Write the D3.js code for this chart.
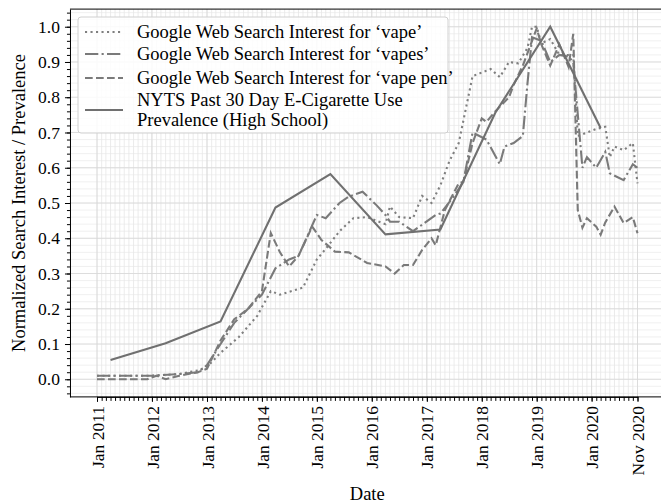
<!DOCTYPE html>
<html>
<head>
<meta charset="utf-8">
<script src="https://cdn.jsdelivr.net/npm/d3@7"></script>
<style>
  body { margin: 0; background: #fff; }
  svg { font-family: "Liberation Serif", serif; }
</style>
</head>
<body>
<svg id="svg" width="661" height="504"></svg>
<script>
// Google trends
var vapeDates = ["2011-01","2011-07","2012-01","2012-07","2012-11","2013-01","2013-04","2013-08","2013-12","2014-03","2014-05","2014-10","2015-01","2015-03","2015-06","2015-09","2015-12","2016-04","2016-05","2016-07","2016-10","2016-12","2017-02","2017-04","2017-06","2017-08","2017-11","2018-03","2018-05","2018-07","2018-09","2018-11","2018-12","2019-01","2019-02","2019-04","2019-06","2019-09","2019-10","2019-12","2020-02","2020-04","2020-05","2020-06","2020-08","2020-10","2020-11"];
var vapeVals  = [0.01,0.01,0.01,0.015,0.025,0.035,0.075,0.12,0.18,0.25,0.24,0.26,0.34,0.37,0.42,0.457,0.46,0.44,0.49,0.46,0.457,0.52,0.50,0.55,0.62,0.67,0.86,0.88,0.857,0.90,0.896,0.94,1.0,1.0,0.953,0.965,0.92,0.92,0.69,0.70,0.71,0.716,0.63,0.66,0.65,0.67,0.556];

var vapesDates = ["2011-01","2011-07","2012-01","2012-07","2012-11","2013-01","2013-04","2013-07","2013-10","2014-01","2014-04","2014-07","2014-09","2015-01","2015-03","2015-06","2015-08","2015-11","2016-02","2016-04","2016-05","2016-07","2016-10","2017-03","2017-04","2017-07","2017-09","2017-11","2018-02","2018-05","2018-06","2018-08","2018-10","2018-11","2018-12","2019-02","2019-04","2019-06","2019-08","2019-09","2019-11","2019-12","2020-02","2020-04","2020-05","2020-08","2020-10","2020-11"];
var vapesVals  = [0.01,0.01,0.01,0.015,0.02,0.04,0.10,0.16,0.20,0.24,0.315,0.34,0.35,0.466,0.457,0.50,0.518,0.532,0.494,0.466,0.447,0.447,0.42,0.466,0.47,0.52,0.56,0.70,0.68,0.61,0.66,0.67,0.69,0.84,0.97,0.96,0.90,0.92,0.915,0.90,0.60,0.63,0.60,0.645,0.584,0.565,0.61,0.60];

var penDates = ["2011-01","2011-07","2011-12","2012-02","2012-04","2012-07","2012-11","2013-01","2013-04","2013-07","2013-10","2014-01","2014-03","2014-05","2014-07","2014-09","2014-12","2015-02","2015-05","2015-08","2015-12","2016-04","2016-06","2016-08","2016-10","2016-12","2017-02","2017-03","2017-05","2017-08","2017-09","2017-11","2018-01","2018-02","2018-04","2018-07","2018-08","2018-10","2019-01","2019-02","2019-04","2019-06","2019-08","2019-09","2019-10","2019-11","2019-12","2020-02","2020-03","2020-04","2020-06","2020-08","2020-10","2020-11"];
var penVals  = [0.0,0.0,0.0,0.01,0.0,0.01,0.02,0.03,0.11,0.17,0.20,0.25,0.415,0.36,0.32,0.35,0.433,0.395,0.362,0.36,0.33,0.32,0.30,0.324,0.324,0.367,0.40,0.38,0.48,0.556,0.56,0.67,0.74,0.73,0.76,0.80,0.835,0.89,0.995,0.95,0.89,0.95,0.886,0.98,0.48,0.43,0.457,0.433,0.41,0.445,0.49,0.443,0.46,0.414];

// NYTS prevalence (normalized)
var nytsDates = ["2011-04","2012-04","2013-04","2014-04","2015-04","2016-04","2017-04","2018-04","2019-04","2020-03"];
var nytsVals  = [0.055,0.102,0.164,0.487,0.582,0.411,0.425,0.756,1.0,0.713];

var yTicks = [0,0.1,0.2,0.3,0.4,0.5,0.6,0.7,0.8,0.9,1.0];
var xTickDates = ["2011-01","2012-01","2013-01","2014-01","2015-01","2016-01","2017-01","2018-01","2019-01","2020-01","2020-11"];
var xTickLabels = ["Jan 2011","Jan 2012","Jan 2013","Jan 2014","Jan 2015","Jan 2016","Jan 2017","Jan 2018","Jan 2019","Jan 2020","Nov 2020"];

var legendNames = ["Google Web Search Interest for \u2018vape\u2019","Google Web Search Interest for \u2018vapes\u2019","Google Web Search Interest for \u2018vape pen\u2019","NYTS Past 30 Day E-Cigarette Use|Prevalence (High School)"];

var parse = d3.timeParse("%Y-%m");
var svg = d3.select("#svg");

var first = parse("2011-01"), last = parse("2020-11");
var xScale = d3.scaleTime().domain([first, last]).range([97, 637.5]);
var span = xScale(last) - xScale(first);
var plot = {left: xScale(first) - span*0.05, right: xScale(last) + span*0.05};
var yScale = d3.scaleLinear().domain([-0.05, 1.05]).range([396.9, 9.1]);
plot.top = yScale(1.05); plot.bottom = yScale(-0.05);

var grid = svg.append("g");
// minor horizontal grid
grid.selectAll(".hmin").data(d3.range(-0.04, 1.05, 0.02)).enter().append("line")
  .attr("x1", plot.left).attr("x2", plot.right)
  .attr("y1", d => yScale(d)).attr("y2", d => yScale(d))
  .attr("stroke", "#ececec").attr("stroke-width", 0.8);
// monthly vertical grid
var months = d3.timeMonth.range(first, d3.timeMonth.offset(last, 1));
grid.selectAll(".vmin").data(months).enter().append("line")
  .attr("x1", d => xScale(d)).attr("x2", d => xScale(d))
  .attr("y1", plot.top).attr("y2", plot.bottom)
  .attr("stroke", "#e6e6e6").attr("stroke-width", 0.8);
// major grid
grid.selectAll(".hmaj").data(yTicks).enter().append("line")
  .attr("x1", plot.left).attr("x2", plot.right)
  .attr("y1", d => yScale(d)).attr("y2", d => yScale(d))
  .attr("stroke", "#d8d8d8").attr("stroke-width", 0.8);
grid.selectAll(".vmaj").data(xTickDates).enter().append("line")
  .attr("x1", d => xScale(parse(d))).attr("x2", d => xScale(parse(d)))
  .attr("y1", plot.top).attr("y2", plot.bottom)
  .attr("stroke", "#d8d8d8").attr("stroke-width", 0.8);

// series
var series = [
  {dates: vapeDates, vals: vapeVals, dash: "2.1,3.4", color: "#7f7f7f"},
  {dates: vapesDates, vals: vapesVals, dash: "13.3,3.3,2.1,3.3", color: "#7a7a7a"},
  {dates: penDates, vals: penVals, dash: "7.7,3.3", color: "#7a7a7a"},
  {dates: nytsDates, vals: nytsVals, dash: null, color: "#707070"}
];
var line = d3.line().x(d => xScale(parse(d[0]))).y(d => yScale(d[1]));
series.forEach(function(s){
  svg.append("path")
    .datum(d3.zip(s.dates, s.vals))
    .attr("d", line)
    .attr("fill", "none")
    .attr("stroke", s.color)
    .attr("stroke-width", 2.1)
    .attr("stroke-dasharray", s.dash);
});

// axes
var yAxis = svg.append("g").attr("transform", "translate(" + plot.left + ",0)")
  .call(d3.axisLeft(yScale).tickValues(yTicks).tickFormat(d3.format(".1f")).tickSize(5).tickSizeOuter(0));
svg.append("g").attr("transform", "translate(" + plot.left + ",0)")
  .call(d3.axisLeft(yScale).tickValues(d3.range(-0.04, 1.05, 0.02)).tickFormat("").tickSize(3).tickSizeOuter(0))
  .select(".domain").remove();
var xAxis = svg.append("g").attr("transform", "translate(0," + plot.bottom + ")")
  .call(d3.axisBottom(xScale).tickValues(xTickDates.map(parse)).tickFormat((d, i) => xTickLabels[i]).tickSize(5).tickSizeOuter(0));
svg.append("g").attr("transform", "translate(0," + plot.bottom + ")")
  .call(d3.axisBottom(xScale).tickValues(months).tickFormat("").tickSize(4).tickSizeOuter(0))
  .select(".domain").remove();

xAxis.selectAll("text")
  .attr("transform", "rotate(-90)")
  .attr("text-anchor", "end")
  .attr("x", -9).attr("y", 0).attr("dy", "0.35em");
svg.selectAll(".tick text").attr("font-size", 17.5).attr("font-family", "Liberation Serif").attr("fill", "#000");
svg.selectAll(".domain, .tick line").attr("stroke", "#000").attr("stroke-width", 1);
yAxis.selectAll("text").attr("x", -10);

// spines
svg.append("line").attr("x1", plot.left).attr("x2", plot.right).attr("y1", plot.top).attr("y2", plot.top).attr("stroke", "#000");
svg.append("line").attr("x1", plot.right).attr("x2", plot.right).attr("y1", plot.top).attr("y2", plot.bottom).attr("stroke", "#000");
svg.append("line").attr("x1", plot.left).attr("x2", plot.right).attr("y1", plot.bottom).attr("y2", plot.bottom).attr("stroke", "#000");

// axis labels
svg.append("text").attr("x", (plot.left + plot.right)/2).attr("y", 500)
  .attr("text-anchor", "middle").attr("font-size", 18.5).text("Date");
svg.append("text").attr("transform", "translate(25," + (plot.top + plot.bottom)/2 + ") rotate(-90)")
  .attr("text-anchor", "middle").attr("font-size", 18.5).text("Normalized Search Interest / Prevalence");

// legend
var leg = svg.append("g");
leg.append("rect").attr("x", 78).attr("y", 17).attr("width", 370).attr("height", 116).attr("rx", 3)
  .attr("fill", "#fff").attr("fill-opacity", 0.85).attr("stroke", "#d0d0d0");
var rowY = [32, 54, 78, 110];
series.forEach(function(s, i){
  leg.append("line").attr("x1", 85).attr("x2", 123).attr("y1", rowY[i]).attr("y2", rowY[i])
    .attr("stroke", s.color).attr("stroke-width", 2.1).attr("stroke-dasharray", s.dash);
  var parts = legendNames[i].split("|");
  var t = leg.append("text").attr("x", 137).attr("y", parts.length > 1 ? rowY[i] - 10 : rowY[i])
    .attr("font-size", 18.5);
  parts.forEach(function(p, j){
    t.append("tspan").attr("x", 137).attr("dy", j == 0 ? "0.35em" : "1.05em").text(p);
  });
});
</script>
</body>
</html>
